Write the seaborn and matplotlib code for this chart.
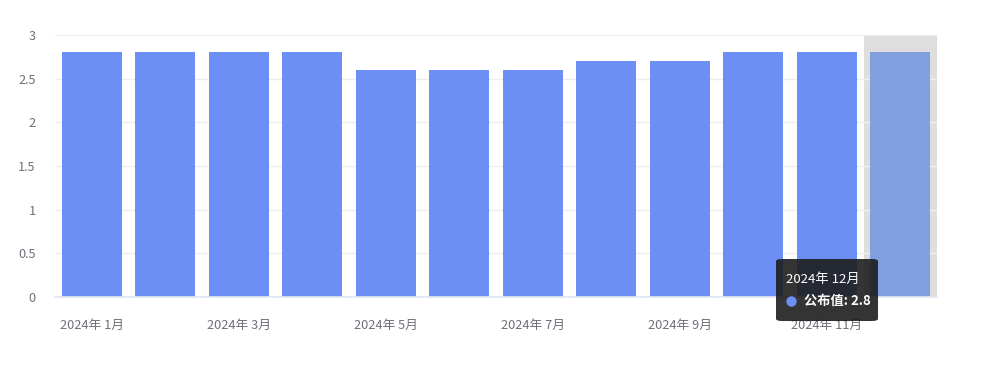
import matplotlib
matplotlib.use("Agg")
import matplotlib.pyplot as plt
import seaborn as sns
import pandas as pd
from matplotlib.patches import FancyBboxPatch
from matplotlib.lines import Line2D

months = ["2024年 1月", "2024年 2月", "2024年 3月", "2024年 4月", "2024年 5月", "2024年 6月",
          "2024年 7月", "2024年 8月", "2024年 9月", "2024年 10月", "2024年 11月", "2024年 12月"]
values = [2.8, 2.8, 2.8, 2.8, 2.6, 2.6, 2.6, 2.7, 2.7, 2.8, 2.8, 2.8]
series_name = "公布值"
yticks = [0, 0.5, 1, 1.5, 2, 2.5, 3]
ytick_labels = ["0", "0.5", "1", "1.5", "2", "2.5", "3"]
highlight = 11

sns.set_theme(style="white")
plt.rcParams['font.family'] = ['Noto Sans CJK SC', 'DejaVu Sans']

df = pd.DataFrame({"month": months, "value": values})

fig = plt.figure(figsize=(9.91, 3.71), dpi=100)
ax = fig.add_axes([55/991, 74/371, (937-55)/991, (297-35)/371])

ax.axvspan(highlight - 0.5, highlight + 0.5, color="#dedede", zorder=0, lw=0)
sns.barplot(data=df, x="month", y="value", color="#6b8ff5", saturation=1, width=0.81, ax=ax, zorder=2)
bars = list(ax.containers[0])
for i, p in enumerate(bars):
    p.set_edgecolor("none")
    if i == highlight:
        p.set_facecolor("#819ede")

ax.set_xlim(-0.5, len(months) - 0.5)
ax.set_ylim(0, 3)
ax.set_yticks(yticks)
ax.set_yticklabels(ytick_labels)
ax.set_xticks(range(0, len(months), 2))
ax.set_xticklabels(months[::2])
ax.set_xlabel("")
ax.set_ylabel("")
ax.yaxis.grid(True, color="#eeeeee", lw=1, zorder=0)
ax.set_axisbelow(True)
for s in ["top", "right", "left"]:
    ax.spines[s].set_visible(False)
ax.spines["bottom"].set_color("#e0e6f1")
ax.tick_params(axis="both", length=0, colors="#6e7079", labelsize=9.2)
ax.tick_params(axis="y", pad=14)
ax.tick_params(axis="x", pad=16)

# tooltip
W, H = 991, 371
def fx(x): return x / W
def fy(y): return 1 - y / H
box = FancyBboxPatch((fx(776), fy(321)), (878-776)/W, (321-259)/H,
                     boxstyle="round,pad=0,rounding_size=0.006",
                     transform=fig.transFigure, facecolor="#1e1e1e", alpha=0.9,
                     edgecolor="none", zorder=10)
fig.patches.append(box)
fig.text(fx(786), fy(279), months[highlight], color="white", fontsize=9.5,
         va="center", ha="left", zorder=11)
fig.add_artist(Line2D([fx(791)], [fy(301)], transform=fig.transFigure, marker="o",
                      markersize=7.5, markerfacecolor="#6b8ff5", markeredgecolor="none",
                      linestyle="none", zorder=11))
fig.text(fx(804), fy(301), f"{series_name}: {values[highlight]}", color="white",
         fontsize=9.5, fontweight="bold", va="center", ha="left", zorder=11)

fig.savefig("out.png", dpi=100)
